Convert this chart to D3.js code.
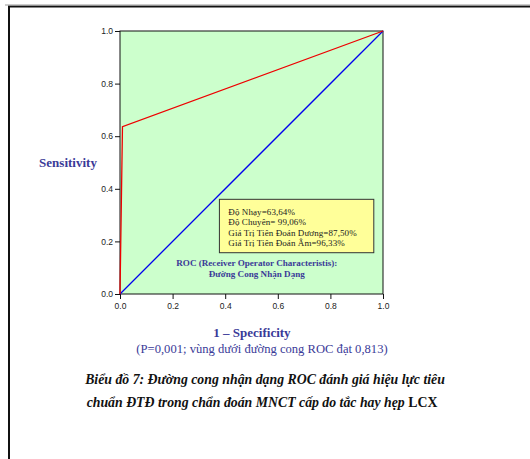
<!DOCTYPE html>
<html>
<head>
<meta charset="utf-8">
<script src="https://cdn.jsdelivr.net/npm/d3@7"></script>
<style>
  body { margin: 0; background: #fff; }
  svg { display: block; }
  .tick text { font-family: "Liberation Sans", Arial, sans-serif; font-size: 8.5px; fill: #222; }
</style>
</head>
<body>
<div id="chart"></div>
<script>
// ROC curve: 1 - specificity vs sensitivity
var fpr = [0, 0.0094, 1];
var tpr = [0, 0.6364, 1];
var refLine = [0, 1];
var ticks = [0, 0.2, 0.4, 0.6, 0.8, 1.0];
var statLines = ["Độ Nhạy=63,64%", "Độ Chuyên= 99,06%", "Giá Trị Tiên Đoán Dương=87,50%", "Giá Trị Tiên Đoán Âm=96,33%"];
var rocNote = ["ROC (Receiver Operator Characteristis):", "Đường Cong Nhận Dạng"];

var width = 530, height = 459;
var plotLeft = 120, plotRight = 383, plotTop = 31, plotBottom = 294;
var labelColor = "#3a3a98";
var serif = "'Liberation Serif', 'Times New Roman', serif";

var svg = d3.select("#chart").append("svg")
  .attr("width", width).attr("height", height);

// page frame
svg.append("line").attr("x1", 8).attr("x2", width).attr("y1", 6.5).attr("y2", 6.5)
  .attr("stroke", "#111").attr("stroke-width", 2);
svg.append("line").attr("x1", 5).attr("x2", width).attr("y1", 5).attr("y2", 5)
  .attr("stroke", "#999").attr("stroke-width", 1);
svg.append("line").attr("x1", 9).attr("x2", 9).attr("y1", 6).attr("y2", height)
  .attr("stroke", "#111").attr("stroke-width", 2);

var x = d3.scaleLinear().domain([0, 1]).range([plotLeft, plotRight]);
var y = d3.scaleLinear().domain([0, 1]).range([plotBottom, plotTop]);

svg.append("rect")
  .attr("x", x(0)).attr("y", y(1))
  .attr("width", x(1) - x(0)).attr("height", y(0) - y(1))
  .attr("fill", "#ccffcc").attr("stroke", "#111").attr("stroke-width", 1);

var xAxis = svg.append("g").attr("transform", "translate(0," + plotBottom + ")")
  .call(d3.axisBottom(x).tickValues(ticks).tickFormat(d3.format(".1f")).tickSize(5).tickPadding(4));
var yAxis = svg.append("g").attr("transform", "translate(" + plotLeft + ",0)")
  .call(d3.axisLeft(y).tickValues(ticks).tickFormat(d3.format(".1f")).tickSize(5).tickPadding(2));
[xAxis, yAxis].forEach(function (g) {
  g.select(".domain").remove();
  g.selectAll(".tick line").attr("stroke", "#111");
});

var line = d3.line().x(function (d) { return x(d[0]); }).y(function (d) { return y(d[1]); });

svg.append("path")
  .datum(refLine.map(function (v) { return [v, v]; }))
  .attr("d", line).attr("fill", "none").attr("stroke", "#0000ee").attr("stroke-width", 1.3);

svg.append("path")
  .datum(fpr.map(function (v, i) { return [v, tpr[i]]; }))
  .attr("d", line).attr("fill", "none").attr("stroke", "#ee0000").attr("stroke-width", 1.3);

// stats box
svg.append("rect")
  .attr("x", x(0.378)).attr("y", y(0.36))
  .attr("width", x(0.965) - x(0.378)).attr("height", y(0.157) - y(0.36))
  .attr("fill", "#ffff99").attr("stroke", "#333").attr("stroke-width", 1);

svg.append("g").selectAll("text").data(statLines).join("text")
  .attr("x", x(0.412))
  .attr("y", function (d, i) { return y(0.302) + i * 10.6; })
  .attr("font-family", serif).attr("font-size", "9px").attr("letter-spacing", "0.08px")
  .attr("fill", "#222")
  .text(function (d) { return d; });

svg.append("g").selectAll("text").data(rocNote).join("text")
  .attr("x", x(0.52))
  .attr("y", function (d, i) { return y(0.108) + i * 11; })
  .attr("text-anchor", "middle")
  .attr("font-family", serif).attr("font-size", "9.1px").attr("font-weight", "bold")
  .attr("fill", labelColor)
  .text(function (d) { return d; });

// axis titles
svg.append("text").attr("x", 68).attr("y", 167).attr("text-anchor", "middle")
  .attr("font-family", serif).attr("font-size", "13px").attr("font-weight", "bold")
  .attr("fill", labelColor).text("Sensitivity");

svg.append("text").attr("x", 252).attr("y", 337).attr("text-anchor", "middle")
  .attr("font-family", serif).attr("font-size", "13px").attr("font-weight", "bold")
  .attr("fill", labelColor).text("1 – Specificity");

svg.append("text").attr("x", 262).attr("y", 353).attr("text-anchor", "middle")
  .attr("font-family", serif).attr("font-size", "12.6px")
  .attr("fill", labelColor).text("(P=0,001; vùng dưới đường cong ROC đạt 0,813)");

// caption
svg.append("text").attr("x", 265).attr("y", 384).attr("text-anchor", "middle")
  .attr("font-family", serif).attr("font-size", "13.8px").attr("font-weight", "bold")
  .attr("font-style", "italic").attr("fill", "#111")
  .text("Biểu đồ 7: Đường cong nhận dạng ROC đánh giá hiệu lực tiêu");
var cap2 = svg.append("text").attr("x", 262).attr("y", 407).attr("text-anchor", "middle")
  .attr("font-family", serif).attr("font-size", "13.8px").attr("font-weight", "bold")
  .attr("fill", "#111");
cap2.append("tspan").attr("font-style", "italic").text("chuẩn ĐTĐ trong chẩn đoán MNCT cấp do tắc hay hẹp ");
cap2.append("tspan").text("LCX");
</script>
</body>
</html>
